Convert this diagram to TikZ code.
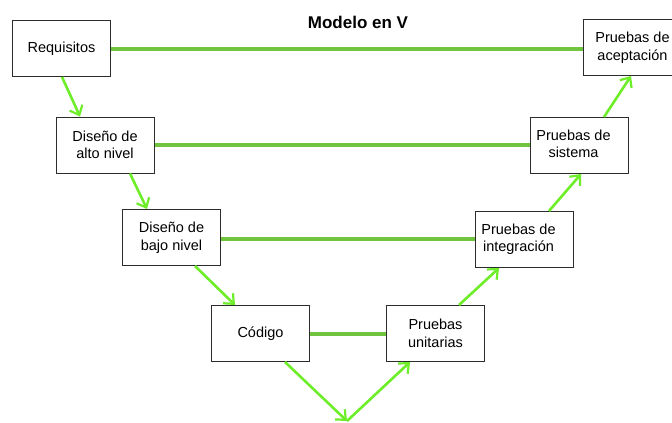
\documentclass[tikz,border=0pt]{standalone}
\usepackage{fontspec}
\setmainfont{Liberation Sans}
\usetikzlibrary{arrows.meta,calc}
\definecolor{hline}{RGB}{112,196,62}
\definecolor{arrg}{RGB}{110,238,40}
\definecolor{boxline}{RGB}{45,45,45}
\newcommand{\lefttext}[2]{\begin{tabular}{@{}c@{}}#1\end{tabular}\hspace*{#2}}
\begin{document}
\begin{tikzpicture}[x=1pt,y=-1pt,
  stage/.style={draw=boxline,line width=1pt,fill=white,minimum width=98pt,minimum height=56pt,
    inner sep=0pt,align=center,font=\fontsize{14.5}{17.5}\selectfont},
  link/.style={draw=hline,line width=4pt},
  arr/.style={draw=arrg,line width=2.6pt,-{Straight Barb[length=8pt,width=14pt,line width=2.2pt]}},
  ttl/.style={font=\fontsize{17}{20}\selectfont\bfseries}]
\useasboundingbox (0,0) rectangle (672,423);
\clip (0,0) rectangle (672,423);
\fill[white] (0,0) rectangle (672,423);
\node[ttl] (title) at (358,22) {Modelo en V};
% boxes
\node[stage] (req) at (61.5,48.5) {Requisitos};
\node[stage] (alto) at (105,145) {Diseño de\\alto nivel};
\node[stage] (bajo) at (171.5,237.5) {Diseño de\\bajo nivel};
\node[stage] (cod) at (260.5,333.5) {Código};
\node[stage] (uni) at (435.5,333.5) {Pruebas\\unitarias};
\node[stage] (int) at (524.5,239.5) {\lefttext{Pruebas de\\integración}{12pt}};
\node[stage] (sis) at (579.5,145.5) {\lefttext{Pruebas de\\sistema}{12pt}};
\node[stage] (acep) at (632.5,47.5) {Pruebas de\\aceptación};
\coordinate (v) at (347,421);
% horizontal links
\draw[link] (req.east) -- (req.east -| acep.west);
\draw[link] (alto.east) -- (alto.east -| sis.west);
\draw[link] ([yshift=-1pt]bajo.east) -- ([yshift=-1pt]bajo.east -| int.west);
\draw[link] (cod.east) -- (cod.east -| uni.west);
% arrows
\draw[arr] ([xshift=0.5pt]req.south) -- ([xshift=-25pt]alto.north);
\draw[arr] ([xshift=25pt]alto.south) -- ([xshift=-24.5pt]bajo.north);
\draw[arr] ([xshift=23.5pt]bajo.south) -- ([xshift=-25.5pt]cod.north);
\draw[arr] ([xshift=24.5pt]cod.south) -- (v);
\draw[arr] (v) -- ([xshift=-25.5pt]uni.south);
\draw[arr] ([xshift=23.5pt]uni.north) -- ([xshift=-25.5pt]int.south);
\draw[arr] ([xshift=24.5pt]int.north) -- ([xshift=1.5pt]sis.south);
\draw[arr] ([xshift=24.5pt]sis.north) -- ([xshift=-1.5pt]acep.south);
\end{tikzpicture}
\end{document}
